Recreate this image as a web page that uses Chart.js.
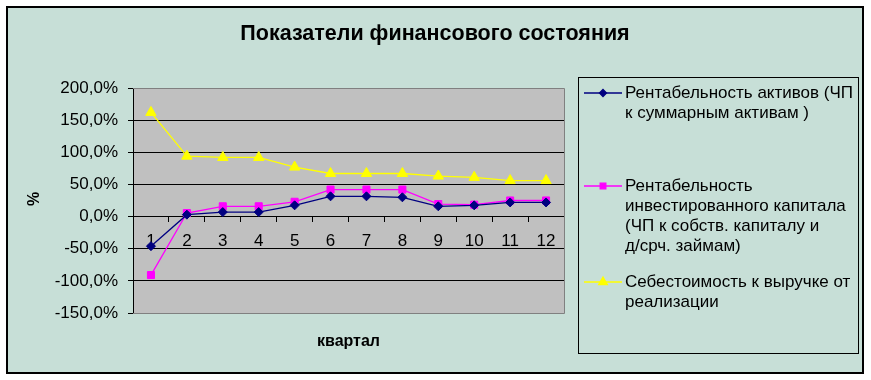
<!DOCTYPE html>
<html>
<head>
<meta charset="utf-8">
<script src="https://cdn.jsdelivr.net/npm/chart.js@4.4.1/dist/chart.umd.min.js"></script>
<style>
  html, body { margin: 0; padding: 0; background: #fff; }
  #wrap { width: 871px; height: 380px; }
</style>
</head>
<body>
<div id="wrap"><canvas id="finChart" width="871" height="380"></canvas></div>
<script>
// quarters on the x axis
const quarters = ['1', '2', '3', '4', '5', '6', '7', '8', '9', '10', '11', '12'];

// series values, %
const returnOnAssets = [-46, 3, 7, 7, 17.5, 31.5, 31.5, 30, 16, 17.5, 22, 22];
const returnOnCapital = [-91, 5.5, 16, 16, 23, 42, 42, 42, 19.5, 18.5, 25, 25];
const costToRevenue = [162, 94, 92, 92, 77, 67, 67, 67, 63, 61, 56, 56];

// legend text, already wrapped like in the original
const legendLines = [
    ['Рентабельность активов (ЧП', 'к суммарным активам )'],
    ['Рентабельность', 'инвестированного капитала', '(ЧП к собств. капиталу и', 'д/срч. займам)'],
    ['Себестоимость к выручке от', 'реализации']
];
const legendTop = [93, 186, 282];

const chartTitle = 'Показатели финансового состояния';
const xTitle = 'квартал';
const yTitle = '%';

const FONT = '"Liberation Sans", Arial, sans-serif';

// Function to format the y tick like "150,0%"
function formatPercent(v) {
    return v.toFixed(1).replace('.', ',') + '%';
}

// background, frame, plot area, titles and the boxed legend
const decorPlugin = {
    id: 'decor',
    beforeDraw(chart) {
        const ctx = chart.ctx;
        const a = chart.chartArea;
        ctx.save();
        ctx.fillStyle = '#ffffff';
        ctx.fillRect(0, 0, chart.width, chart.height);
        ctx.fillStyle = '#C7DFD7';
        ctx.fillRect(7, 7, 856, 366);
        ctx.strokeStyle = '#000';
        ctx.lineWidth = 2;
        ctx.strokeRect(7, 7, 856, 366);
        ctx.fillStyle = '#C0C0C0';
        ctx.fillRect(a.left, a.top, a.right - a.left, a.bottom - a.top);
        ctx.restore();
    },
    beforeDatasetsDraw(chart) {
        const ctx = chart.ctx;
        const a = chart.chartArea;
        ctx.save();
        ctx.strokeStyle = '#808080';
        ctx.lineWidth = 1;
        ctx.beginPath();
        ctx.moveTo(a.left, a.top + 0.5);
        ctx.lineTo(a.right + 0.5, a.top + 0.5);
        ctx.lineTo(a.right + 0.5, a.bottom + 0.5);
        ctx.lineTo(a.left, a.bottom + 0.5);
        ctx.stroke();
        ctx.restore();
    },
    afterDraw(chart) {
        const ctx = chart.ctx;
        const a = chart.chartArea;
        ctx.save();
        ctx.fillStyle = '#000';
        ctx.textAlign = 'center';
        ctx.textBaseline = 'middle';

        ctx.font = 'bold 21.5px ' + FONT;
        ctx.fillText(chartTitle, 435, 34);

        ctx.font = 'bold 16px ' + FONT;
        ctx.fillText(xTitle, (a.left + a.right) / 2, 342);

        ctx.save();
        ctx.translate(35, 199);
        ctx.rotate(-Math.PI / 2);
        ctx.fillText(yTitle, 0, 0);
        ctx.restore();

        // legend box
        ctx.strokeStyle = '#000';
        ctx.lineWidth = 1;
        ctx.strokeRect(578.5, 77.5, 280, 276);

        ctx.textAlign = 'left';
        ctx.font = '17px ' + FONT;
        chart.data.datasets.forEach((ds, i) => {
            const y0 = legendTop[i];
            ctx.strokeStyle = ds.borderColor;
            ctx.lineWidth = 1.3;
            ctx.beginPath();
            ctx.moveTo(584, y0);
            ctx.lineTo(622, y0);
            ctx.stroke();
            ctx.fillStyle = ds.backgroundColor;
            Chart.helpers.drawPoint(ctx, {
                pointStyle: ds.pointStyle,
                radius: ds.pointRadius - 1,
                borderWidth: 1
            }, 603, y0);
            ctx.fillStyle = '#000';
            legendLines[i].forEach((line, j) => {
                ctx.fillText(line, 625, y0 + j * 20);
            });
        });
        ctx.restore();
    }
};

function drawChart() {
    const ctx = document.getElementById('finChart').getContext('2d');
    const finChart = new Chart(ctx, {
        type: 'line',
        data: {
            labels: quarters,
            datasets: [{
                label: legendLines[0].join(' '),
                data: returnOnAssets,
                borderColor: '#000080',
                backgroundColor: '#000080',
                borderWidth: 1.3,
                pointStyle: 'rectRot',
                pointRadius: 4.5,
                pointBorderWidth: 1
            }, {
                label: legendLines[1].join(' '),
                data: returnOnCapital,
                borderColor: '#FF00FF',
                backgroundColor: '#FF00FF',
                borderWidth: 1.3,
                pointStyle: 'rect',
                pointRadius: 5,
                pointBorderWidth: 1
            }, {
                label: legendLines[2].join(' '),
                data: costToRevenue,
                borderColor: '#FFFF00',
                backgroundColor: '#FFFF00',
                borderWidth: 1.3,
                pointStyle: 'triangle',
                pointRadius: 6,
                pointBorderWidth: 1
            }]
        },
        options: {
            responsive: false,
            animation: false,
            layout: {
                padding: { top: 88, right: 307, bottom: 67, left: 0 }
            },
            plugins: {
                legend: { display: false },
                tooltip: { enabled: false }
            },
            scales: {
                x: {
                    position: { y: 0 },
                    offset: true,
                    grid: {
                        offset: true,
                        drawOnChartArea: false,
                        drawTicks: true,
                        tickLength: 5,
                        tickColor: '#000'
                    },
                    border: { display: true, color: '#000', width: 1 },
                    ticks: {
                        color: '#000',
                        padding: 10,
                        maxRotation: 0,
                        font: { family: FONT, size: 17 }
                    }
                },
                y: {
                    min: -150,
                    max: 200,
                    afterFit: s => { s.width = 133; },
                    grid: {
                        color: c => (c.tick && (c.tick.value === 200 || c.tick.value === -150)) ? 'rgba(0,0,0,0)' : '#000',
                        tickColor: '#000',
                        tickLength: 5,
                        lineWidth: 1
                    },
                    border: { display: true, color: '#000', width: 1 },
                    ticks: {
                        stepSize: 50,
                        color: '#000',
                        padding: 10,
                        callback: v => formatPercent(v),
                        font: { family: FONT, size: 17 }
                    }
                }
            }
        },
        plugins: [decorPlugin]
    });
}

window.onload = drawChart;
</script>
</body>
</html>
